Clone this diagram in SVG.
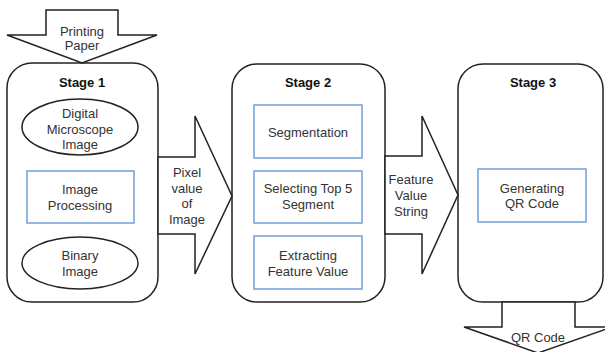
<svg xmlns="http://www.w3.org/2000/svg" width="605" height="352" viewBox="0 0 605 352">
<style>
.ln{fill:#fff;stroke:#222;stroke-width:1.5;stroke-linejoin:miter}
.bx{fill:#fff;stroke:#6f9fd6;stroke-width:1.5}
.t{font-family:"Liberation Sans",Arial,sans-serif;font-size:13px;fill:#333;text-anchor:middle}
.b{font-weight:bold;fill:#111}
</style>
<rect width="605" height="352" fill="#fff"/>
<g id="stage1">
<rect class="ln" x="7" y="63" width="151" height="239" rx="25"/>
<text class="t b" x="82" y="87">Stage 1</text>
<g id="digital">
<ellipse class="ln" cx="80" cy="127" rx="58" ry="28"/>
<text class="t" x="80" y="117.5">Digital</text>
<text class="t" x="80" y="133.5">Microscope</text>
<text class="t" x="80" y="149">Image</text>
</g>
<g id="imgproc">
<rect class="bx" x="27" y="171" width="107" height="52"/>
<text class="t" x="80" y="193.5">Image</text>
<text class="t" x="80" y="209.5">Processing</text>
</g>
<g id="binary">
<ellipse class="ln" cx="80" cy="263" rx="58" ry="26"/>
<text class="t" x="80" y="259.5">Binary</text>
<text class="t" x="80" y="275.5">Image</text>
</g>
</g>
<g id="stage2">
<rect class="ln" x="232" y="64" width="153" height="238" rx="25"/>
<text class="t b" x="308" y="87">Stage 2</text>
<g id="seg">
<rect class="bx" x="254" y="105" width="108" height="53"/>
<text class="t" x="308" y="136.5">Segmentation</text>
</g>
<g id="sel">
<rect class="bx" x="254" y="171" width="108" height="52"/>
<text class="t" x="308" y="192.5">Selecting Top 5</text>
<text class="t" x="308" y="208.5">Segment</text>
</g>
<g id="ext">
<rect class="bx" x="254" y="236" width="108" height="53"/>
<text class="t" x="308" y="259.5">Extracting</text>
<text class="t" x="308" y="275.5">Feature Value</text>
</g>
</g>
<g id="stage3">
<rect class="ln" x="458" y="64" width="145" height="238" rx="25"/>
<text class="t b" x="533" y="87">Stage 3</text>
<g id="gen">
<rect class="bx" x="478" y="169" width="108" height="53"/>
<text class="t" x="532" y="192.5">Generating</text>
<text class="t" x="532" y="208">QR Code</text>
</g>
</g>
<g id="connectors">
<g id="paper">
<polygon class="ln" points="46,10 118,10 118,35 157,35 82,63 7,35 46,35"/>
<text class="t" x="82" y="35.5">Printing</text>
<text class="t" x="82" y="50">Paper</text>
</g>
<g id="pixel">
<polygon class="ln" points="158,157 195,157 195,116 232,196 195,274 195,234 158,234"/>
<text class="t" x="187" y="176.5">Pixel</text>
<text class="t" x="187" y="192.5">value</text>
<text class="t" x="187" y="207.5">of</text>
<text class="t" x="187" y="223.5">Image</text>
</g>
<g id="feature">
<polygon class="ln" points="385,156 422,156 422,116 458,195 422,274 422,234 385,234"/>
<text class="t" x="411" y="183.5">Feature</text>
<text class="t" x="411" y="199.5">Value</text>
<text class="t" x="411" y="215.5">String</text>
</g>
<g id="qr">
<polygon class="ln" points="502,302 575,302 575,327 612,327 538,353 464,327 502,327"/>
<text class="t" x="538" y="342">QR Code</text>
</g>
</g>
</svg>
